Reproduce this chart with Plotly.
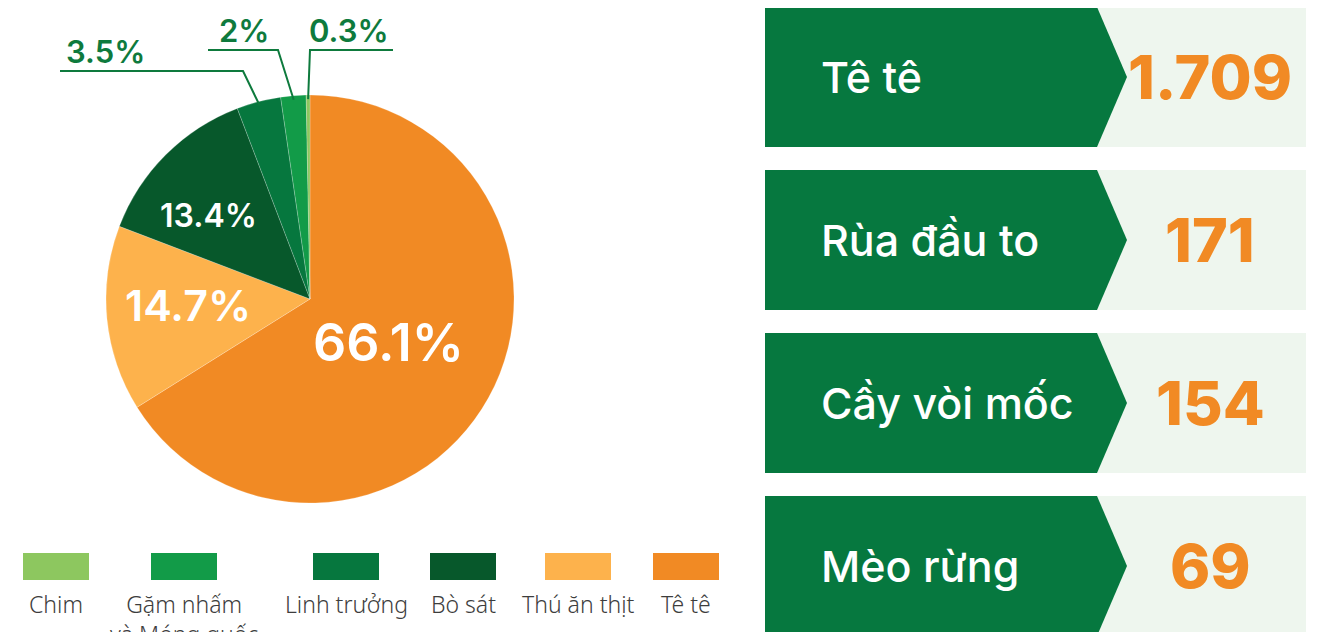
import plotly.graph_objects as go
import numpy as np

W, H = 1326, 632
OFF = 8  # page body margin in the browser

# pie: share of seized animals by group
groups = ["Tê tê", "Thú ăn thịt", "Bò sát", "Linh trưởng", "Gặm nhấm và Móng guốc", "Chim"]
shares = [66.1, 14.7, 13.4, 3.5, 2.0, 0.3]
share_text = ["66.1%", "14.7%", "13.4%", "3.5%", "2%", "0.3%"]
colors = ["#f18a24", "#fdb24c", "#07582b", "#06773e", "#129b48", "#8dc75f"]

# legend (left to right)
legend_labels = ["Chim", "Gặm nhấm<br>và Móng guốc", "Linh trưởng", "Bò sát", "Thú ăn thịt", "Tê tê"]

# top species
species = ["Tê tê", "Rùa đầu to", "Cầy vòi mốc", "Mèo rừng"]
counts = [1709, 171, 154, 69]

FONT = "Inter"
GREEN = "#06783f"
ORANGE = "#f18a24"

# pie geometry in pixels
CX, CY, R = 310, 299, 204

fig = go.Figure()
fig.add_trace(go.Scatter(x=[], y=[], hoverinfo="skip", showlegend=False))
fig.add_trace(go.Pie(
    labels=groups, values=shares, sort=False, direction="clockwise", rotation=0,
    marker=dict(colors=colors, line=dict(color="rgba(255,255,255,0.35)", width=0.6)),
    textinfo="none", showlegend=False,
    domain=dict(x=[(CX - R - OFF) / W, (CX + R - OFF) / W],
                y=[1 - (CY + R - OFF) / H, 1 - (CY - R - OFF) / H]),
))

annotations = []
shapes = []

# slice mid angles (clockwise from 12 o'clock)
cum = np.cumsum([0] + shares[:-1])
mid = [(c + s / 2) / 100 * 2 * np.pi for c, s in zip(cum, shares)]

# inside labels: radius fraction, font size, nudge
inside = {0: (0.44, 52, (0, 0)), 1: (0.60, 43, (0, -6)), 2: (0.65, 32, (-8, 10))}
for i, (rf, size, (dx, dy)) in inside.items():
    x = CX + rf * R * np.sin(mid[i]) + dx
    y = CY - rf * R * np.cos(mid[i]) + dy
    annotations.append(dict(x=x, y=y, xref="x", yref="y", text=share_text[i], showarrow=False,
                            font=dict(family=FONT, size=size, color="white", weight=600)))

# outside labels with leader lines: elbow point, line end x, label x
outside = {3: ((243, 71), 60, 105), 4: ((278, 50), 208, 244), 5: ((310, 50), 393, 349)}
for i, ((ex, ey), endx, lx) in outside.items():
    sx = CX + 0.98 * R * np.sin(mid[i])
    sy = CY - 0.98 * R * np.cos(mid[i])
    shapes.append(dict(type="path", xref="x", yref="y",
                       path=f"M{sx},{sy} L{ex},{ey} L{endx},{ey}",
                       line=dict(color="#0e7a3d", width=2)))
    annotations.append(dict(x=lx, y=ey + 1, xref="x", yref="y", text=share_text[i], showarrow=False,
                            yanchor="bottom",
                            font=dict(family=FONT, size=31, color="#0e7a3d", weight=600)))

# legend swatches
legend_cx = [56, 184, 346, 463, 578, 686]
rev_colors = colors[::-1]
for lbl, c, cx in zip(legend_labels, rev_colors, legend_cx):
    shapes.append(dict(type="rect", xref="x", yref="y", x0=cx - 33, x1=cx + 33, y0=553, y1=580,
                       fillcolor=c, line=dict(width=0)))
    annotations.append(dict(x=cx, y=586, xref="x", yref="y", text=lbl, showarrow=False,
                            yanchor="top", align="center",
                            font=dict(family="Noto Sans", size=23, color="#3d3d3d", weight=300)))

# species boxes
for k, (name, n) in enumerate(zip(species, counts)):
    top = 7 + k * 163
    bot = top + 140
    midy = (top + bot) / 2
    shapes.append(dict(type="rect", xref="x", yref="y", x0=1097, x1=1306, y0=top, y1=bot,
                       fillcolor="#eef6ee", line=dict(width=0), layer="below"))
    shapes.append(dict(type="path", xref="x", yref="y",
                       path=f"M765,{top} L1097,{top} L1127,{midy} L1097,{bot} L765,{bot} Z",
                       fillcolor=GREEN, line=dict(width=0)))
    annotations.append(dict(x=819, y=midy, xref="x", yref="y", text=name, showarrow=False,
                            xanchor="left",
                            font=dict(family=FONT, size=43, color="white", weight=500)))
    annotations.append(dict(x=1210, y=midy, xref="x", yref="y", text=f"{n:,}".replace(",", "."),
                            showarrow=False,
                            font=dict(family=FONT, size=61, color=ORANGE, weight=800)))

fig.update_layout(
    width=W, height=H, margin=dict(l=0, r=0, t=0, b=0),
    paper_bgcolor="white", plot_bgcolor="white",
    xaxis=dict(range=[OFF, W + OFF], visible=False, fixedrange=True),
    yaxis=dict(range=[H + OFF, OFF], visible=False, fixedrange=True),
    shapes=shapes, annotations=annotations,
)

fig.write_html("out.html")
